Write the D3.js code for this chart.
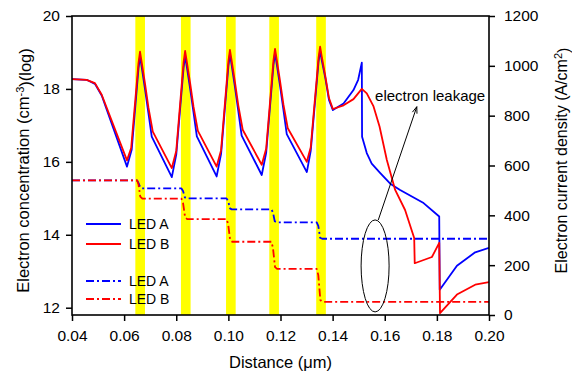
<!DOCTYPE html>
<html>
<head>
<meta charset="utf-8">
<script src="https://cdn.jsdelivr.net/npm/d3@7"></script>
<style>
  body { margin: 0; background: #fff; }
  svg { display: block; font-family: "Liberation Sans", Arial, sans-serif; }
</style>
</head>
<body>
<div id="chart"></div>
<script>
// quantum well positions (distance, um)
const wells = [[0.0643, 0.0680], [0.0818, 0.0855], [0.0991, 0.1028], [0.1157, 0.1194], [0.1337, 0.1374]];

// electron concentration, log10(cm^-3)
const concA = [
  [0.0400, 18.27], [0.0456, 18.25], [0.0488, 18.14], [0.0514, 17.82], [0.0611, 15.87], [0.0629, 16.33],
  [0.0655, 18.55], [0.0661, 18.90], [0.0667, 18.62], [0.0680, 18.00], [0.0693, 17.35], [0.0706, 16.69],
  [0.0783, 15.58], [0.0800, 16.20], [0.0828, 18.57], [0.0834, 18.90], [0.0840, 18.63], [0.0853, 18.02],
  [0.0866, 17.37], [0.0879, 16.70], [0.0955, 15.60], [0.0972, 16.22], [0.1000, 18.62], [0.1006, 18.95],
  [0.1012, 18.68], [0.1025, 18.06], [0.1038, 17.40], [0.1051, 16.72], [0.1128, 15.64], [0.1145, 16.25],
  [0.1173, 18.65], [0.1179, 18.98], [0.1185, 18.71], [0.1198, 18.10], [0.1211, 17.44], [0.1224, 16.76],
  [0.1301, 15.72], [0.1316, 16.30], [0.1346, 18.75], [0.1352, 19.05], [0.1358, 18.80], [0.1372, 18.30],
  [0.1386, 17.70], [0.1401, 17.42], [0.1442, 17.60], [0.1480, 17.97], [0.1498, 18.25], [0.1512, 18.72],
  [0.1513, 16.69], [0.1531, 16.24], [0.1550, 15.95], [0.1582, 15.70], [0.1621, 15.40], [0.1659, 15.23],
  [0.1749, 14.87], [0.1809, 14.50], [0.1811, 12.49], [0.1877, 13.15], [0.1947, 13.52], [0.2000, 13.64]
];
const concB = [
  [0.0400, 18.27], [0.0456, 18.25], [0.0488, 18.16], [0.0514, 17.84], [0.0611, 16.04], [0.0627, 16.38],
  [0.0655, 18.70], [0.0661, 19.02], [0.0667, 18.75], [0.0680, 18.15], [0.0693, 17.50], [0.0710, 16.83],
  [0.0783, 15.83], [0.0800, 16.30], [0.0828, 18.72], [0.0834, 19.04], [0.0840, 18.77], [0.0853, 18.17],
  [0.0866, 17.52], [0.0883, 16.85], [0.0955, 15.87], [0.0972, 16.32], [0.1000, 18.75], [0.1006, 19.07],
  [0.1012, 18.80], [0.1025, 18.20], [0.1038, 17.55], [0.1055, 16.88], [0.1128, 15.92], [0.1145, 16.36],
  [0.1173, 18.78], [0.1179, 19.10], [0.1185, 18.83], [0.1198, 18.23], [0.1211, 17.58], [0.1228, 16.92],
  [0.1301, 16.00], [0.1316, 16.40], [0.1346, 18.85], [0.1352, 19.16], [0.1358, 18.90], [0.1372, 18.35],
  [0.1386, 17.75], [0.1401, 17.45], [0.1442, 17.55], [0.1480, 17.72], [0.1512, 18.00], [0.1531, 17.88],
  [0.1557, 17.52], [0.1580, 16.97], [0.1608, 16.05], [0.1640, 15.23], [0.1678, 14.68], [0.1713, 13.91],
  [0.1715, 13.22], [0.1781, 13.39], [0.1809, 13.78], [0.1812, 11.85], [0.1877, 12.36], [0.1947, 12.63],
  [0.2000, 12.70]
];

// electron current density, A/cm^2
const currA = [
  [0.0400, 540], [0.0650, 540], [0.0655, 530], [0.0662, 512], [0.0668, 508], [0.0820, 508], [0.0826, 498],
  [0.0833, 472], [0.0840, 468], [0.0993, 468], [0.0999, 458], [0.1006, 428], [0.1013, 424], [0.1165, 424],
  [0.1171, 412], [0.1178, 376], [0.1186, 372], [0.1339, 372], [0.1345, 358], [0.1352, 310], [0.1360, 306],
  [0.2000, 306]
];
const currB = [
  [0.0400, 540], [0.0650, 540], [0.0655, 525], [0.0662, 475], [0.0670, 467], [0.0820, 467], [0.0826, 450],
  [0.0834, 392], [0.0842, 385], [0.0993, 385], [0.0999, 365], [0.1007, 300], [0.1015, 294], [0.1165, 294],
  [0.1171, 270], [0.1179, 192], [0.1187, 185], [0.1339, 185], [0.1345, 160], [0.1353, 60], [0.1361, 53],
  [0.2000, 53]
];

const xTicks = [0.04, 0.06, 0.08, 0.10, 0.12, 0.14, 0.16, 0.18, 0.20];
const yLeftTicks = [12, 14, 16, 18, 20];
const yRightTicks = [0, 200, 400, 600, 800, 1000, 1200];

const width = 572, height = 373;
const margin = {top: 16, right: 83, bottom: 58, left: 72};
const innerW = width - margin.left - margin.right;
const innerH = height - margin.top - margin.bottom;

const blue = '#0000ff', red = '#ff0000', yellow = '#ffff00';
const dashDot = '8,3,2,3';

const svg = d3.select('#chart').append('svg')
    .attr('width', width)
    .attr('height', height);

const g = svg.append('g')
    .attr('transform', `translate(${margin.left},${margin.top})`);

const x = d3.scaleLinear().domain([0.04, 0.20]).range([0, innerW]);
const yL = d3.scaleLinear().domain([11.8, 20]).range([innerH, 0]);
const yR = d3.scaleLinear().domain([0, 1200]).range([innerH, 0]);

g.append('clipPath').attr('id', 'plot-clip')
    .append('rect').attr('width', innerW).attr('height', innerH);

// yellow well bands
g.selectAll('rect.well').data(wells).join('rect')
    .attr('class', 'well')
    .attr('x', d => x(d[0]))
    .attr('width', d => x(d[1]) - x(d[0]))
    .attr('y', 0)
    .attr('height', innerH)
    .attr('fill', yellow);

const lineL = d3.line().x(d => x(d[0])).y(d => yL(d[1]));
const lineR = d3.line().x(d => x(d[0])).y(d => yR(d[1]));

const plot = g.append('g').attr('clip-path', 'url(#plot-clip)');

const series = [
    {data: currA, line: lineR, color: blue, dash: dashDot},
    {data: currB, line: lineR, color: red, dash: dashDot},
    {data: concA, line: lineL, color: blue, dash: null},
    {data: concB, line: lineL, color: red, dash: null}
];
series.forEach(s => {
    plot.append('path')
        .datum(s.data)
        .attr('d', s.line)
        .attr('fill', 'none')
        .attr('stroke', s.color)
        .attr('stroke-width', 1.8)
        .attr('stroke-linejoin', 'round')
        .attr('stroke-dasharray', s.dash);
});

// legend
const legend = g.append('g');
const legendItems = [
    {label: 'LED A', color: blue, dash: null, y: 208},
    {label: 'LED B', color: red, dash: null, y: 228},
    {label: 'LED A', color: blue, dash: dashDot, y: 265},
    {label: 'LED B', color: red, dash: dashDot, y: 283}
];
legendItems.forEach(it => {
    legend.append('line')
        .attr('x1', 14).attr('x2', 49)
        .attr('y1', it.y).attr('y2', it.y)
        .attr('stroke', it.color)
        .attr('stroke-width', 1.8)
        .attr('stroke-dasharray', it.dash);
    legend.append('text')
        .attr('x', 57).attr('y', it.y)
        .attr('dy', '0.36em')
        .style('font-size', '14px')
        .text(it.label);
});

// annotation: electron leakage
const ell = {x: 0.1563, y: 197, rx: 14, ry: 46};
g.append('ellipse')
    .attr('cx', x(ell.x)).attr('cy', yR(ell.y))
    .attr('rx', ell.rx).attr('ry', ell.ry)
    .attr('fill', 'none')
    .attr('stroke', '#000')
    .attr('stroke-width', 1);

const arrow = {x1: 0.1575, y1: 381, x2: 0.1723, y2: 836};
const ax1 = x(arrow.x1), ay1 = yR(arrow.y1), ax2 = x(arrow.x2), ay2 = yR(arrow.y2);
g.append('line')
    .attr('x1', ax1).attr('y1', ay1).attr('x2', ax2).attr('y2', ay2)
    .attr('stroke', '#000').attr('stroke-width', 1);
const ang = Math.atan2(ay1 - ay2, ax1 - ax2);
const headLen = 7, headAng = 0.35;
g.append('path')
    .attr('d', `M${ax2 + headLen * Math.cos(ang - headAng)},${ay2 + headLen * Math.sin(ang - headAng)}
        L${ax2},${ay2}
        L${ax2 + headLen * Math.cos(ang + headAng)},${ay2 + headLen * Math.sin(ang + headAng)}`)
    .attr('fill', 'none').attr('stroke', '#000').attr('stroke-width', 1);

g.append('text')
    .attr('x', x(0.1563)).attr('y', yR(860))
    .style('font-size', '15px')
    .text('electron leakage');

// axes
const xAxis = g.append('g')
    .attr('transform', `translate(0,${innerH})`)
    .call(d3.axisBottom(x).tickValues(xTicks).tickFormat(d3.format('.2f'))
        .tickSize(6).tickSizeOuter(0).tickPadding(9));
const yAxisL = g.append('g')
    .call(d3.axisLeft(yL).tickValues(yLeftTicks).tickFormat(d3.format('d'))
        .tickSize(6).tickSizeOuter(0).tickPadding(6));
const yAxisR = g.append('g')
    .attr('transform', `translate(${innerW},0)`)
    .call(d3.axisRight(yR).tickValues(yRightTicks).tickFormat(d3.format('d'))
        .tickSize(6).tickSizeOuter(0).tickPadding(9));

[xAxis, yAxisL, yAxisR].forEach(a => {
    a.select('.domain').remove();
    a.selectAll('line').attr('stroke', '#000').attr('stroke-width', 1.5);
    a.selectAll('text')
        .attr('fill', '#000')
        .style('font-size', '15.5px')
        .style('font-family', '"Liberation Sans", Arial, sans-serif');
});

g.append('rect')
    .attr('width', innerW).attr('height', innerH)
    .attr('fill', 'none')
    .attr('stroke', '#000')
    .attr('stroke-width', 1.6);

// axis titles
svg.append('text')
    .attr('x', margin.left + innerW / 2)
    .attr('y', 368)
    .attr('text-anchor', 'middle')
    .style('font-size', '16.5px')
    .text('Distance (\u03bcm)');

const leftTitle = svg.append('text')
    .attr('transform', `translate(29,${margin.top + innerH / 2 + 5}) rotate(-90)`)
    .attr('text-anchor', 'middle')
    .style('font-size', '16.5px');
leftTitle.append('tspan').text('Electron concentration (cm');
leftTitle.append('tspan').attr('dy', '-0.45em').style('font-size', '11px').text('-3');
leftTitle.append('tspan').attr('dy', '0.45em').text(')(log)');

const rightTitle = svg.append('text')
    .attr('transform', `translate(567,${margin.top + innerH / 2 - 5}) rotate(-90)`)
    .attr('text-anchor', 'middle')
    .style('font-size', '16px');
rightTitle.append('tspan').text('Electron current density (A/cm');
rightTitle.append('tspan').attr('dy', '-0.45em').style('font-size', '11px').text('2');
rightTitle.append('tspan').attr('dy', '0.45em').text(')');
</script>
</body>
</html>
